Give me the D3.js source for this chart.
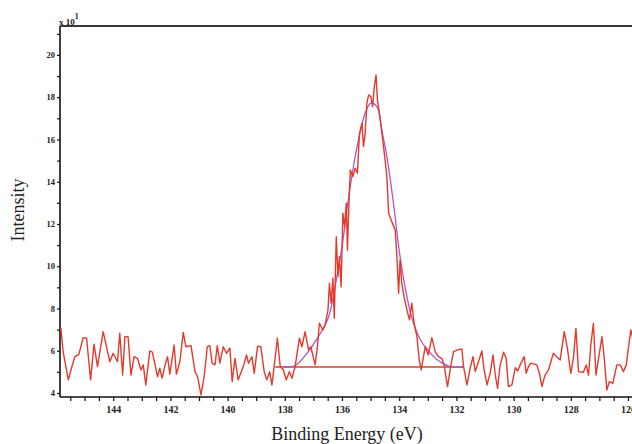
<!DOCTYPE html>
<html>
<head>
<meta charset="utf-8">
<script src="https://cdn.jsdelivr.net/npm/d3@7"></script>
<style>
  html, body { margin: 0; padding: 0; background: #fff; }
  svg { display: block; }
</style>
</head>
<body>
<div id="chart"></div>
<script>
// ---- Data ----
// Measured spectrum: binding energy (eV) and intensity (x10^1)
const spectrumEnergy = [145.83,145.75,145.57,145.46,145.34,145.20,145.05,144.93,144.79,144.67,144.55,144.35,144.12,144.00,143.85,143.77,143.67,143.59,143.48,143.38,143.27,143.15,143.03,142.95,142.86,142.72,142.63,142.45,142.37,142.29,142.17,142.10,142.02,141.87,141.79,141.67,141.55,141.46,141.28,141.14,141.05,140.93,140.82,140.71,140.62,140.54,140.44,140.36,140.27,140.15,140.04,139.92,139.84,139.74,139.63,139.45,139.34,139.27,139.15,139.07,138.95,138.84,138.72,138.63,138.53,138.45,138.36,138.26,138.16,138.05,137.95,137.84,137.75,137.64,137.49,137.40,137.29,137.17,137.09,136.94,136.86,136.79,136.67,136.59,136.49,136.44,136.38,136.32,136.27,136.20,136.14,136.09,136.03,135.97,135.91,135.85,135.81,135.75,135.71,135.62,135.54,135.46,135.39,135.30,135.25,135.19,135.13,135.07,134.99,134.93,134.87,134.81,134.76,134.69,134.61,134.52,134.43,134.37,134.26,134.14,134.08,134.02,133.97,133.91,133.83,133.73,133.64,133.56,133.48,133.38,133.30,133.23,133.09,132.98,132.86,132.74,132.63,132.51,132.43,132.31,132.19,132.10,131.96,131.81,131.75,131.63,131.52,131.42,131.34,131.23,131.11,131.03,130.93,130.82,130.72,130.64,130.56,130.47,130.35,130.26,130.18,130.06,129.94,129.86,129.77,129.63,129.56,129.48,129.40,129.19,129.09,129.01,128.90,128.78,128.61,128.49,128.37,128.23,128.12,128.00,127.91,127.82,127.73,127.56,127.46,127.38,127.30,127.21,127.12,127.01,126.91,126.83,126.74,126.65,126.53,126.39,126.27,126.16,126.06,125.98,125.90,125.82];
const spectrumIntensity = [7.09,5.96,4.62,5.17,5.72,5.83,6.62,6.59,4.62,6.31,5.25,6.90,5.48,5.88,5.48,6.83,4.85,6.67,6.67,4.85,5.72,5.64,5.09,5.33,4.38,5.99,5.93,4.77,5.17,4.70,5.41,5.72,4.89,6.27,4.89,5.48,6.87,6.19,6.24,5.01,4.77,3.91,4.77,6.19,6.24,5.41,5.33,6.24,5.41,6.19,5.88,6.12,4.54,5.64,4.62,5.25,5.80,5.41,5.72,4.93,6.22,6.19,5.01,4.62,5.01,4.38,5.41,6.59,5.25,5.09,4.62,5.01,4.70,5.25,6.59,6.19,6.90,6.04,6.19,5.33,6.19,7.30,6.98,7.22,7.93,9.19,8.25,9.43,7.54,11.40,9.51,10.45,9.03,12.51,11.87,12.98,10.77,13.29,14.56,14.24,14.64,14.40,16.29,16.77,15.66,16.29,17.71,18.11,18.03,17.55,18.50,19.05,17.87,17.24,16.37,15.35,14.24,12.51,12.11,11.72,10.45,8.72,10.30,9.19,8.56,7.93,7.46,8.25,7.30,6.67,5.56,5.09,6.19,5.80,6.62,5.96,5.72,5.64,5.33,4.30,5.33,5.96,6.04,6.08,5.25,4.38,5.17,5.72,5.01,5.48,5.99,5.09,4.38,4.93,5.80,4.85,4.22,5.33,5.93,5.64,4.30,4.38,5.20,5.04,5.33,5.72,4.93,5.25,5.41,5.33,4.89,4.30,4.85,5.09,5.88,5.72,5.56,6.90,6.12,4.93,5.64,7.06,5.01,4.98,5.33,4.85,6.27,7.30,4.85,5.80,6.67,5.64,4.14,4.54,4.46,5.33,5.33,5.01,5.33,6.19,6.98,6.50];

// Fitted envelope (purple)
const fitEnergy = [138.06,137.64,137.23,137.00,136.76,136.47,136.18,135.99,135.83,135.60,135.42,135.19,134.99,134.78,134.61,134.43,134.20,133.97,133.73,133.50,133.21,133.03,132.80,132.57,132.22,131.75];
const fitIntensity = [5.23,5.30,5.87,6.30,6.82,7.60,9.50,11.00,12.66,14.72,16.00,17.25,17.72,17.55,16.45,15.19,12.98,10.45,8.56,7.30,6.40,6.10,5.72,5.48,5.25,5.23];

// Background line
const baselineEnergy = [138.34, 131.75];
const baselineIntensity = [5.23, 5.23];

// Axis ticks
const xTickLabels = [144,142,140,138,136,134,132,130,128,126];
const yTickLabels = [4,6,8,10,12,14,16,18,20];

// ---- Layout ----
const W = 632, H = 444;
const mLeft = 60, mTop = 26, mBottom = 397;
const x = d3.scaleLinear().domain([145.86, 125.0]).range([mLeft, mLeft + 20.86 * 28.6]);
const y = d3.scaleLinear().domain([3.81, 21.37]).range([mBottom, mTop]);

const svg = d3.select("#chart").append("svg")
  .attr("width", W).attr("height", H);

svg.append("defs").append("clipPath").attr("id", "plot")
  .append("rect").attr("x", mLeft).attr("y", mTop).attr("width", W - mLeft).attr("height", mBottom - mTop);

const tickFont = "'Liberation Serif', 'Times New Roman', serif";

// X axis
const xMinor = d3.range(145.5, 125.0, -0.5);
const xAxis = d3.axisBottom(x)
  .tickValues(xMinor)
  .tickSize(4)
  .tickFormat(d => xTickLabels.includes(d) ? d3.format("d")(d) : "");
const gx = svg.append("g").attr("transform", `translate(0,${mBottom})`).call(xAxis);
gx.select(".domain").remove();
gx.selectAll(".tick line").attr("stroke", "#111").attr("stroke-width", 1.2);
gx.selectAll(".tick text")
  .attr("font-family", tickFont).attr("font-weight", "bold").attr("font-size", 10)
  .attr("fill", "#222").attr("dy", "0.9em");
svg.append("line").attr("x1", mLeft).attr("x2", W).attr("y1", mBottom).attr("y2", mBottom)
  .attr("stroke", "#111").attr("stroke-width", 1.6);

// Y axis
const yMinor = d3.range(5, 22, 2);
const yAxis = d3.axisLeft(y)
  .tickValues(yTickLabels.concat(yMinor))
  .tickSize(3)
  .tickPadding(2)
  .tickFormat(d => yTickLabels.includes(d) ? d3.format("d")(d) : "");
const gy = svg.append("g").attr("transform", `translate(${mLeft},0)`).call(yAxis);
gy.select(".domain").remove();
gy.selectAll(".tick line").attr("stroke", "#111").attr("stroke-width", 1.2);
gy.selectAll(".tick text")
  .attr("font-family", tickFont).attr("font-weight", "bold").attr("font-size", 8.5)
  .attr("fill", "#222");
svg.append("line").attr("x1", mLeft).attr("x2", mLeft).attr("y1", mTop).attr("y2", mBottom)
  .attr("stroke", "#111").attr("stroke-width", 1.6);

// Top border
svg.append("line").attr("x1", mLeft).attr("x2", W).attr("y1", mTop).attr("y2", mTop)
  .attr("stroke", "#3a3a3a").attr("stroke-width", 2);

// Multiplier label
const mult = svg.append("text").attr("x", mLeft - 1).attr("y", mTop - 1)
  .attr("font-family", tickFont).attr("font-weight", "bold").attr("font-size", 9).attr("fill", "#222");
mult.append("tspan").text("x 10");
mult.append("tspan").attr("dy", -6).attr("font-size", 8).text("1");

// Data lines
const plot = svg.append("g").attr("clip-path", "url(#plot)");

const specData = spectrumEnergy.map((e, i) => [e, spectrumIntensity[i]]);
const fitData = fitEnergy.map((e, i) => [e, fitIntensity[i]]);
const baseData = baselineEnergy.map((e, i) => [e, baselineIntensity[i]]);

const line = d3.line().x(d => x(d[0])).y(d => y(d[1]));

plot.append("path").datum(baseData).attr("d", line)
  .attr("fill", "none").attr("stroke", "#c8482e").attr("stroke-width", 1.5);

plot.append("path").datum(fitData).attr("d", d3.line().x(d => x(d[0])).y(d => y(d[1])).curve(d3.curveCatmullRom))
  .attr("fill", "none").attr("stroke", "#a958cc").attr("stroke-width", 1.3);

plot.append("path").datum(specData).attr("d", line)
  .attr("fill", "none").attr("stroke", "#e5392c").attr("stroke-width", 1.4)
  .attr("stroke-linejoin", "round");

// Axis titles
svg.append("text")
  .attr("transform", `translate(24,210) rotate(-90)`)
  .attr("text-anchor", "middle")
  .attr("font-family", "'Liberation Serif', 'Times New Roman', serif")
  .attr("font-size", 18).attr("fill", "#222")
  .text("Intensity");

svg.append("text")
  .attr("x", 347).attr("y", 440)
  .attr("text-anchor", "middle")
  .attr("font-family", "'Liberation Serif', 'Times New Roman', serif")
  .attr("font-size", 18).attr("fill", "#222")
  .text("Binding Energy (eV)");
</script>
</body>
</html>
